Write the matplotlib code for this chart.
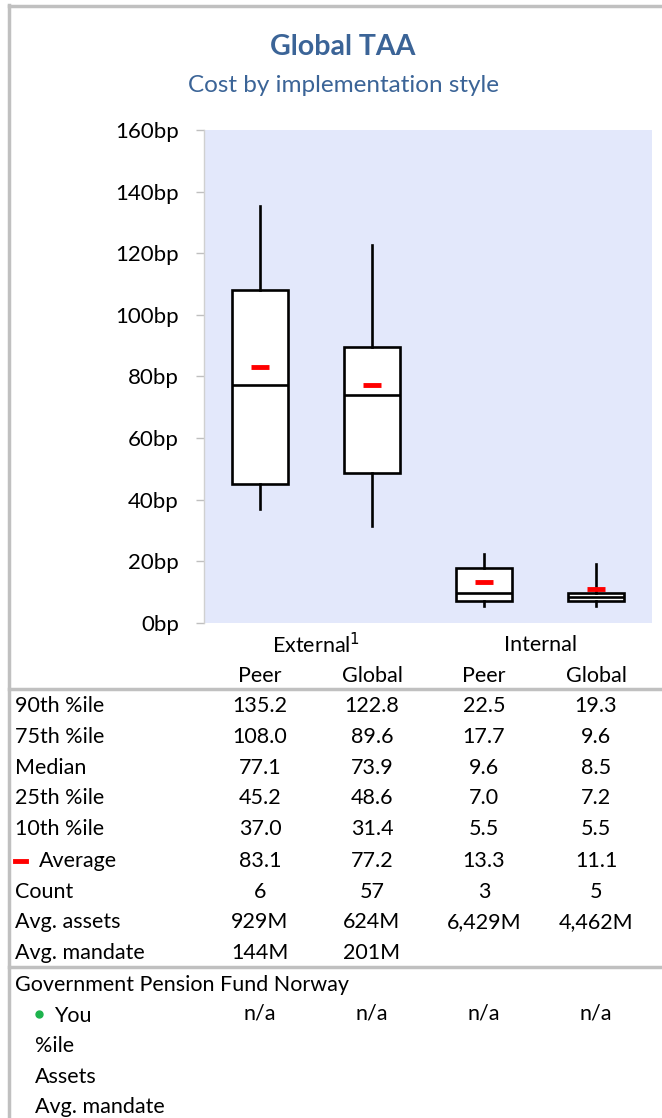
import numpy as np
import matplotlib.pyplot as plt
from matplotlib.lines import Line2D

plt.rcParams["font.family"] = ["Lato", "DejaVu Sans"]

# data
groups = ["External", "Internal"]
subgroups = ["Peer", "Global", "Peer", "Global"]
p90 = [135.2, 122.8, 22.5, 19.3]
p75 = [108.0, 89.6, 17.7, 9.6]
median = [77.1, 73.9, 9.6, 8.5]
p25 = [45.2, 48.6, 7.0, 7.2]
p10 = [37.0, 31.4, 5.5, 5.5]
average = [83.1, 77.2, 13.3, 11.1]
count = [6, 57, 3, 5]
avg_assets = ["929M", "624M", "6,429M", "4,462M"]
avg_mandate = ["144M", "201M", "", ""]
you = ["n/a", "n/a", "n/a", "n/a"]
yticks = [0, 20, 40, 60, 80, 100, 120, 140, 160]

W, H = 662, 1118
fig = plt.figure(figsize=(W / 100, H / 100), dpi=100)

def fx(px):
    return px / W

def fy(py):
    return 1 - py / H

title_col = "#3B6497"
fig.text(fx(343), fy(47), "Global TAA", ha="center", va="center",
         fontsize=20.5, fontweight="bold", color=title_col)
fig.text(fx(343), fy(86), "Cost by implementation style", ha="center",
         va="center", fontsize=17.5, color=title_col)

ax = fig.add_axes([fx(204), fy(623), fx(652) - fx(204), fy(130) - fy(623)])
ax.set_facecolor("#E3E8FB")

pos = np.arange(len(subgroups)) + 0.5
stats = []
for i in range(len(subgroups)):
    stats.append(dict(med=median[i], q1=p25[i], q3=p75[i],
                      whislo=p10[i], whishi=p90[i], fliers=[]))
lw = 1.9
ax.bxp(stats, positions=pos, widths=0.5, showcaps=False, showfliers=False,
       patch_artist=True,
       boxprops=dict(facecolor="white", edgecolor="black", linewidth=lw),
       medianprops=dict(color="black", linewidth=lw),
       whiskerprops=dict(color="black", linewidth=lw))
ax.scatter(pos, average, marker="_", s=150, color="red", linewidths=3.5, zorder=5)

ax.set_xlim(0, 4)
ax.set_ylim(0, 160)
ax.set_xticks([])
ax.set_yticks(yticks)
ax.set_yticklabels([f"{v}bp" for v in yticks])
ax.tick_params(axis="y", direction="out", length=6, width=1, color="#BFBFBF",
               labelsize=16, pad=12)
for s in ["top", "right", "bottom"]:
    ax.spines[s].set_visible(False)
ax.spines["left"].set_color("#D0D0D0")
ax.spines["left"].set_linewidth(1)

# headers
cols = [260, 372, 484, 596]
fs = 15.5
fig.text(fx(316), fy(645), "External$^{1}$", ha="center", va="center", fontsize=fs)
fig.text(fx(541), fy(645), groups[1], ha="center", va="center", fontsize=fs)
for c, s in zip(cols, subgroups):
    fig.text(fx(c), fy(676), s, ha="center", va="center", fontsize=fs)

rows = [
    ("90th %ile", [f"{v:.1f}" for v in p90], 706),
    ("75th %ile", [f"{v:.1f}" for v in p75], 737),
    ("Median", [f"{v:.1f}" for v in median], 768),
    ("25th %ile", [f"{v:.1f}" for v in p25], 798),
    ("10th %ile", [f"{v:.1f}" for v in p10], 829),
    ("Average", [f"{v:.1f}" for v in average], 861),
    ("Count", [str(v) for v in count], 892),
    ("Avg. assets", avg_assets, 922),
    ("Avg. mandate", avg_mandate, 953),
]
for label, vals, y in rows:
    x0 = 39 if label == "Average" else 15
    fig.text(fx(x0), fy(y), label, ha="left", va="center", fontsize=fs)
    for c, v in zip(cols, vals):
        fig.text(fx(c), fy(y), v, ha="center", va="center", fontsize=fs)
fig.add_artist(Line2D([fx(15), fx(26)], [fy(861), fy(861)], color="red", lw=3.5))

fig.text(fx(15), fy(985), "Government Pension Fund Norway", ha="left",
         va="center", fontsize=fs)
fig.text(fx(54), fy(1016), "You", ha="left", va="center", fontsize=fs)
fig.add_artist(Line2D([fx(39)], [fy(1014)], marker="o", markersize=5,
                      color="#1DB34D", linestyle="none"))
for c, v in zip(cols, you):
    fig.text(fx(c), fy(1014), v, ha="center", va="center", fontsize=fs)
for label, y in [("%ile", 1046), ("Assets", 1077), ("Avg. mandate", 1107)]:
    fig.text(fx(35), fy(y), label, ha="left", va="center", fontsize=fs)

# borders and separators
grey = "#C0C0C0"
fig.add_artist(Line2D([fx(9), fx(9)], [fy(5), fy(H)], color=grey, lw=2.5))
fig.add_artist(Line2D([fx(9), fx(W)], [fy(6), fy(6)], color=grey, lw=2.5))
for y in [689, 967]:
    fig.add_artist(Line2D([fx(9), fx(W)], [fy(y), fy(y)], color=grey, lw=2.5))

fig.savefig("out.png", dpi=100)
